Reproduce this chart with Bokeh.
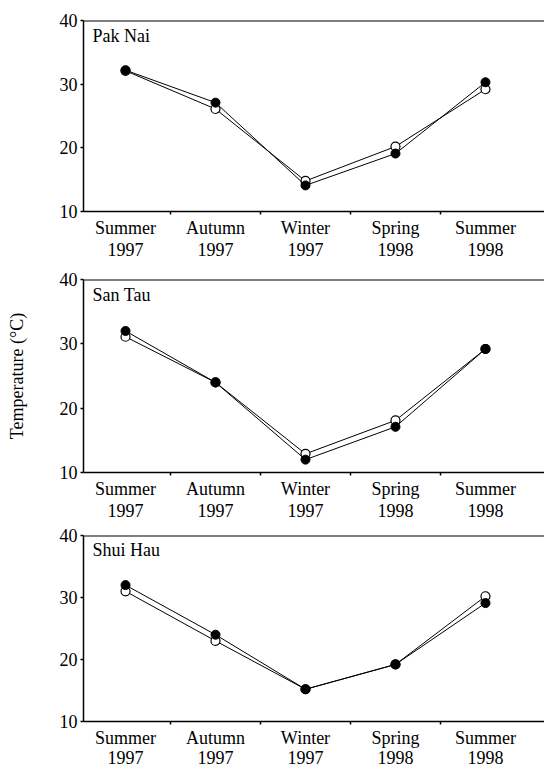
from bokeh.plotting import figure
from bokeh.models import Range1d, FixedTicker, Span, Label
from bokeh.layouts import column
from bokeh.embed import file_html
from bokeh.resources import INLINE

seasons = ["Summer\n1997", "Autumn\n1997", "Winter\n1997", "Spring\n1998", "Summer\n1998"]
xpos = [1, 2, 3, 4, 5]
y_ticks = [10, 20, 30, 40]

sites = ["Pak Nai", "San Tau", "Shui Hau"]
filled_vals = [
    [32.2, 27.1, 14.1, 19.1, 30.3],
    [32.0, 24.0, 12.0, 17.1, 29.2],
    [32.0, 24.0, 15.2, 19.2, 29.1],
]
open_vals = [
    [32.1, 26.1, 14.8, 20.2, 29.2],
    [31.1, 24.0, 12.9, 18.1, 29.2],
    [31.0, 23.0, 15.2, 19.2, 30.2],
]

FONT = "Liberation Serif"
FS = "18px"

heights = [267, 256, 247]
borders_top = [20, 12, 12]
borders_bottom = [56, 51, 43]
label_line_heights = [1.1, 1.1, 1.0]

figs = []
for i, site in enumerate(sites):
    p = figure(width=544, height=heights[i], output_backend="svg",
               toolbar_location=None, x_range=Range1d(0.533, 5.656),
               y_range=Range1d(10, 40), min_border_left=83, min_border_right=0,
               min_border_top=borders_top[i], min_border_bottom=borders_bottom[i])
    p.outline_line_color = None
    p.background_fill_color = "white"
    p.border_fill_color = "white"
    p.xgrid.grid_line_color = None
    p.ygrid.grid_line_color = None

    # x axis
    p.xaxis.ticker = FixedTicker(ticks=xpos, minor_ticks=[1.5, 2.5, 3.5, 4.5])
    p.xaxis.major_label_overrides = {x: s for x, s in zip(xpos, seasons)}
    p.xaxis.major_tick_out = 0
    p.xaxis.major_tick_in = 0
    p.xaxis.minor_tick_out = 3
    p.xaxis.minor_tick_in = 0
    p.xaxis.minor_tick_line_color = "black"
    p.xaxis.minor_tick_line_width = 1.5
    p.xaxis.axis_line_color = "black"
    p.xaxis.axis_line_width = 1.5
    p.xaxis.major_label_text_font = FONT
    p.xaxis.major_label_text_font_size = FS
    p.xaxis.major_label_text_color = "black"
    p.xaxis.major_label_text_line_height = label_line_heights[i]
    p.xaxis.major_label_standoff = 3

    # y axis
    p.yaxis.ticker = FixedTicker(ticks=y_ticks, minor_ticks=[])
    p.yaxis.major_tick_out = 3
    p.yaxis.major_tick_in = 0
    p.yaxis.major_tick_line_color = "black"
    p.yaxis.major_tick_line_width = 1.5
    p.yaxis.axis_line_color = "black"
    p.yaxis.axis_line_width = 1.5
    p.yaxis.major_label_text_font = FONT
    p.yaxis.major_label_text_font_size = FS
    p.yaxis.major_label_text_color = "black"
    p.yaxis.major_label_standoff = 3
    if i == 1:
        p.yaxis.axis_label = "Temperature (°C)"
        p.yaxis.axis_label_text_font = FONT
        p.yaxis.axis_label_text_font_size = FS
        p.yaxis.axis_label_text_font_style = "normal"
        p.yaxis.axis_label_text_color = "black"
        p.yaxis.axis_label_standoff = 30

    p.add_layout(Span(location=40, dimension="width", line_color="black", line_width=2))

    p.line(xpos, open_vals[i], line_color="black", line_width=1)
    p.scatter(xpos, open_vals[i], size=9, marker="circle", fill_color="white",
              line_color="black", line_width=1.2)
    p.line(xpos, filled_vals[i], line_color="black", line_width=1)
    p.scatter(xpos, filled_vals[i], size=9, marker="circle", fill_color="black",
              line_color="black")

    p.add_layout(Label(x=0.633, y=39.2, text=site, text_font=FONT,
                       text_font_size=FS, text_baseline="top", text_color="black"))
    figs.append(p)

layout = column(*figs, spacing=0)
open("out.html", "w").write(file_html(layout, INLINE))
